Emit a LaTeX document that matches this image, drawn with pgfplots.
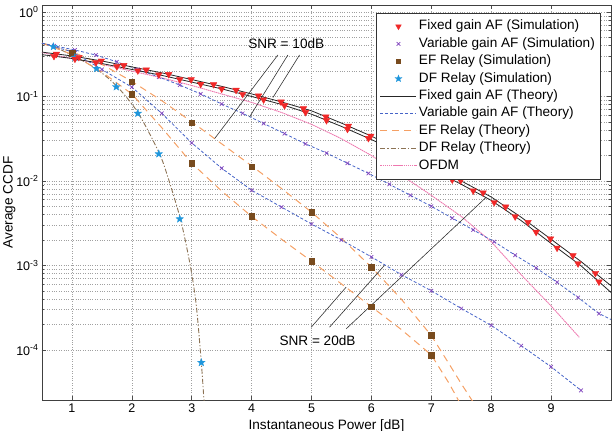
\documentclass[border=0pt]{standalone}
\usepackage{pgfplots}
\pgfplotsset{compat=1.18}
\usepackage{fontspec}
\setmainfont{Liberation Sans}
\usetikzlibrary{plotmarks}
\definecolor{redm}{RGB}{240,40,40}
\definecolor{purplem}{RGB}{130,70,190}
\definecolor{bluel}{RGB}{70,100,200}
\definecolor{orangel}{RGB}{245,160,100}
\definecolor{brownm}{RGB}{120,75,30}
\definecolor{bluem}{RGB}{30,150,220}
\definecolor{dfline}{RGB}{140,115,85}
\definecolor{pinkl}{RGB}{238,120,175}
\definecolor{gridc}{RGB}{160,160,160}
\pgfdeclareplotmark{fstar}{%
  \pgfpathmoveto{\pgfpointpolar{90}{\pgfplotmarksize}}%
  \pgfpathlineto{\pgfpointpolar{126}{0.42\pgfplotmarksize}}%
  \pgfpathlineto{\pgfpointpolar{162}{\pgfplotmarksize}}%
  \pgfpathlineto{\pgfpointpolar{198}{0.42\pgfplotmarksize}}%
  \pgfpathlineto{\pgfpointpolar{234}{\pgfplotmarksize}}%
  \pgfpathlineto{\pgfpointpolar{270}{0.42\pgfplotmarksize}}%
  \pgfpathlineto{\pgfpointpolar{306}{\pgfplotmarksize}}%
  \pgfpathlineto{\pgfpointpolar{342}{0.42\pgfplotmarksize}}%
  \pgfpathlineto{\pgfpointpolar{18}{\pgfplotmarksize}}%
  \pgfpathlineto{\pgfpointpolar{54}{0.42\pgfplotmarksize}}%
  \pgfpathclose\pgfusepathqfillstroke}
\newcommand{\lfont}{\fontsize{13.6}{15}\selectfont}
\begin{document}
\begin{tikzpicture}[x=1pt,y=1pt]
\useasboundingbox (-42,-31) rectangle (572,400);
\begin{axis}[at={(0,0)}, anchor=south west, scale only axis,
  width=569pt, height=395pt,
  ymode=log, xmin=0.5, xmax=10, ymin=2.55e-5, ymax=1.21,
  xtick={1,2,3,4,5,6,7,8,9},
  ytick={1e-4,1e-3,1e-2,1e-1,1},
  yticklabels={10\textsuperscript{-4},10\textsuperscript{-3},10\textsuperscript{-2},10\textsuperscript{-1},10\textsuperscript{0}},
  xticklabel style={font=\fontsize{12.5}{14}\selectfont},
  yticklabel style={font=\fontsize{12.5}{14}\selectfont},
  /pgf/number format/assume math mode=true,
  grid=both, minor x tick num=0,
  major grid style={dotted, gridc, line width=0.6pt},
  minor grid style={dotted, gridc, line width=0.6pt},
  tick align=inside, tick style={black!70, line width=0.5pt},
  major tick length=4pt, minor tick length=2pt,
  axis line style={draw=black!75, line width=0.8pt},
  xlabel={Instantaneous Power [dB]}, ylabel={Average CCDF},
  label style={font=\lfont},
  ylabel shift=-6pt,
  legend cell align=left,
  legend image code/.code={\draw[mark repeat=2,mark phase=2,#1] plot coordinates {(0pt,0pt) (18pt,0pt) (36pt,0pt)};},
  legend style={at={(0.982,0.980)}, anchor=north east, draw=black!80, line width=0.8pt, fill=white,
    font=\lfont, inner xsep=3.5pt, inner ysep=4.5pt, row sep=0pt,
    nodes={inner sep=2pt, text height=10pt, text depth=3.4pt},
    /tikz/every even column/.append style={column sep=2pt}},
]
% legend images
\addlegendimage{only marks, mark=triangle*, mark size=3.2pt, mark options={rotate=180, fill=redm, draw=redm, line width=0.4pt}}
\addlegendentry{Fixed gain AF (Simulation)}
\addlegendimage{only marks, mark=x, mark size=2.6pt, mark options={draw=purplem, line width=0.7pt}}
\addlegendentry{Variable gain AF (Simulation)}
\addlegendimage{only marks, mark=square*, mark size=2.4pt, mark options={fill=brownm, draw=brownm}}
\addlegendentry{EF Relay (Simulation)}
\addlegendimage{only marks, mark=fstar, mark size=3.6pt, mark options={fill=bluem, draw=bluem, line width=0.3pt}}
\addlegendentry{DF Relay (Simulation)}
\addlegendimage{black!85, line width=0.8pt}
\addlegendentry{Fixed gain AF (Theory)}
\addlegendimage{bluel, line width=0.8pt, dash pattern=on 3pt off 2pt}
\addlegendentry{Variable gain AF (Theory)}
\addlegendimage{orangel, line width=1pt, dash pattern=on 7pt off 5pt}
\addlegendentry{EF Relay (Theory)}
\addlegendimage{dfline, line width=0.9pt, dash pattern=on 5pt off 2pt on 1.2pt off 2pt}
\addlegendentry{DF Relay (Theory)}
\addlegendimage{pinkl, line width=0.9pt, dash pattern=on 1.5pt off 0.6pt}
\addlegendentry{OFDM}

% OFDM
\addplot[forget plot, pinkl, line width=0.9pt, dash pattern=on 1.5pt off 0.6pt] coordinates {
(0.5,0.331) (1,0.282) (1.5,0.240) (2,0.200) (2.5,0.166) (3,0.135) (3.5,0.107) (4,0.0851) (4.5,0.0646) (5,0.0468) (5.5,0.0316) (6,0.0200) (6.5,0.0117) (7,0.00676) (7.5,0.00380) (8,0.00191) (8.5,7.76e-4) (9,3.31e-4) (9.47,1.41e-4)};

% DF theory
\addplot[forget plot, dfline, line width=0.9pt, dash pattern=on 5pt off 2pt on 1.2pt off 2pt, smooth] coordinates {
(0.5,0.427) (0.7,0.389) (1.05,0.295) (1.4,0.214) (1.75,0.132) (2.1,0.0646) (2.45,0.0219) (2.6,0.0112) (2.8,0.00380) (2.9,0.00186) (3.0,7.94e-4) (3.08,3.16e-4) (3.16,7.08e-5) (3.2,2.82e-5) (3.22,2.0e-5)};

% EF theory SNR10
\addplot[forget plot, orangel, line width=1pt, dash pattern=on 7pt off 5pt] coordinates {
(0.5,0.427) (1,0.339) (1.5,0.240) (2,0.151) (2.5,0.0891) (3,0.0501) (3.5,0.0275) (4,0.0151) (4.5,0.00813) (5,0.00427) (5.5,0.00209) (6,9.55e-4) (6.5,3.98e-4) (7,1.479e-4) (7.3,6.76e-5) (7.5,3.98e-5) (7.7,2.4e-5)};
% EF theory SNR20
\addplot[forget plot, orangel, line width=1pt, dash pattern=on 7pt off 5pt] coordinates {
(0.5,0.427) (1,0.316) (1.5,0.195) (2,0.107) (2.5,0.0427) (3,0.0162) (3.5,0.00759) (4,0.00380) (4.5,0.00204) (5,0.00112) (5.5,6.03e-4) (6,3.24e-4) (6.5,1.74e-4) (7,8.71e-5) (7.3,3.98e-5) (7.47,2.4e-5)};

% Variable gain theory SNR10
\addplot[forget plot, bluel, line width=0.8pt, dash pattern=on 3pt off 2pt] coordinates {
(0.5,0.427) (0.7,0.398) (1.05,0.355) (1.4,0.309) (1.75,0.257) (2.1,0.209) (2.45,0.170) (2.8,0.1365) (3.15,0.1072) (3.5,0.0813) (3.85,0.0631) (4.2,0.0479) (4.55,0.0363) (4.9,0.0275) (5.25,0.0214) (5.6,0.0162) (5.95,0.0123) (6.3,0.00912) (6.65,0.00676) (7.0,0.00501) (7.35,0.00363) (7.7,0.00263) (8.05,0.00191) (8.4,0.00132) (8.75,9.33e-4) (9.1,6.31e-4) (9.45,4.17e-4) (9.8,2.69e-4) (10,2.29e-4)};
% Variable gain theory SNR20
\addplot[forget plot, bluel, line width=0.8pt, dash pattern=on 3pt off 2pt] coordinates {
(0.5,0.427) (1,0.339) (1.5,0.209) (2,0.129) (2.5,0.0631) (3,0.0282) (3.5,0.01413) (4,0.00776) (4.5,0.00490) (5,0.00309) (5.5,0.00200) (6,0.00126) (6.5,7.76e-4) (7,5.01e-4) (7.5,3.09e-4) (8,1.95e-4) (8.5,1.122e-4) (9,6.31e-5) (9.5,3.31e-5)};

% Fixed gain theory (two SNRs)
\addplot[forget plot, black!85, line width=0.8pt] coordinates {
(0.5,0.335) (1,0.302) (1.5,0.263) (2,0.224) (2.5,0.1905) (3,0.1585) (3.5,0.1318) (4,0.1072) (4.5,0.0861) (5,0.0676) (5.5,0.0484) (6,0.0339) (6.5,0.0229) (7,0.0151) (7.5,0.0100) (8,0.00646) (8.5,0.00372) (9,0.00204) (9.5,0.00111) (10,5.75e-4)};
\addplot[forget plot, black!85, line width=0.8pt] coordinates {
(0.5,0.3126) (1,0.2818) (1.5,0.2455) (2,0.2089) (2.5,0.1778) (3,0.1479) (3.5,0.1230) (4,0.1) (4.5,0.0804) (5,0.0617) (5.5,0.0442) (6,0.0309) (6.5,0.0209) (7,0.0138) (7.5,0.00912) (8,0.00589) (8.5,0.00339) (9,0.00182) (9.5,9.89e-4) (10,4.79e-4)};

% annotations
\draw[black!80, line width=0.6pt] (axis cs:4.438,0.3097) -- (axis cs:3.383,0.0318);
\draw[black!80, line width=0.6pt] (axis cs:4.605,0.3097) -- (axis cs:3.967,0.0574);
\draw[black!80, line width=0.6pt] (axis cs:4.8,0.3097) -- (axis cs:4.355,0.0970);
\node[font=\lfont] at (axis cs:4.578,0.4266) {SNR = 10dB};
\draw[black!80, line width=0.6pt] (axis cs:4.995,1.854e-4) -- (axis cs:5.578,5.53e-4);
\draw[black!80, line width=0.6pt] (axis cs:5.3,1.854e-4) -- (axis cs:6.217,1.0e-3);
\draw[black!80, line width=0.6pt] (axis cs:5.578,1.774e-4) -- (axis cs:7.917,6.41e-3);
\node[font=\lfont] at (axis cs:5.10,1.29e-4) {SNR = 20dB};

% Variable gain sims
\addplot[forget plot, only marks, mark=x, mark size=2.6pt, mark options={draw=purplem, line width=0.7pt}] coordinates {
(0.7,0.398) (1.05,0.355) (1.4,0.309) (1.75,0.257) (2.1,0.209) (2.45,0.170) (2.8,0.1365) (3.15,0.1072) (3.5,0.0813) (3.85,0.0631) (4.2,0.0479) (4.55,0.0363) (4.9,0.0275) (5.25,0.0214) (5.6,0.0162) (5.95,0.0123) (6.3,0.00912) (6.65,0.00676) (7.0,0.00501) (7.35,0.00363) (7.7,0.00263) (8.05,0.00191) (8.4,0.00132) (8.75,9.33e-4) (9.1,6.31e-4) (9.45,4.17e-4) (9.8,2.69e-4)};
\addplot[forget plot, only marks, mark=x, mark size=2.6pt, mark options={draw=purplem, line width=0.7pt}] coordinates {
(1,0.339) (1.5,0.209) (2,0.129) (2.5,0.0631) (3,0.0282) (3.5,0.01413) (4,0.00776) (4.5,0.00490) (5,0.00309) (5.5,0.00200) (6,0.00126) (6.5,7.76e-4) (7,5.01e-4) (7.5,3.09e-4) (8,1.95e-4) (8.5,1.122e-4) (9,6.31e-5) (9.5,3.31e-5)};

% EF sims
\addplot[forget plot, only marks, mark=square*, mark size=2.8pt, mark options={fill=brownm, draw=brownm}] coordinates {
(1,0.33) (2,0.149) (3,0.0490) (4,0.0148) (5,0.00427) (6,9.55e-4) (7,1.48e-4)};
\addplot[forget plot, only marks, mark=square*, mark size=2.8pt, mark options={fill=brownm, draw=brownm}] coordinates {
(1,0.32) (2,0.107) (3,0.0163) (4,0.00380) (5,0.00112) (6,3.24e-4) (7,8.71e-5)};

% DF sims
\addplot[forget plot, only marks, mark=fstar, mark size=4pt, mark options={fill=bluem, draw=bluem, line width=0.3pt}] coordinates {
(0.69,0.389) (1.05,0.29) (1.41,0.214) (1.74,0.130) (2.1,0.0631) (2.45,0.0209) (2.8,0.00355) (3.16,7.08e-5)};

% Fixed gain sims
\addplot[forget plot, only marks, mark=triangle*, mark size=3.8pt, mark options={rotate=180, fill=redm, draw=redm, line width=0.4pt}] coordinates {
(0.74,0.318) (1.115,0.292) (1.49,0.264) (1.865,0.234) (2.24,0.207) (2.615,0.183) (2.99,0.159) (3.365,0.139) (3.74,0.119) (4.115,0.102) (4.49,0.0865) (4.865,0.0721) (5.24,0.0575) (5.615,0.0446) (5.99,0.0341) (6.365,0.0255) (6.74,0.0188) (7.115,0.0138) (7.49,0.0101) (7.865,0.00726) (8.24,0.00495) (8.615,0.00324) (8.99,0.00207) (9.365,0.00131) (9.74,8.09e-4)};
\addplot[forget plot, only marks, mark=triangle*, mark size=3.8pt, mark options={rotate=180, fill=redm, draw=redm, line width=0.4pt}] coordinates {
(0.7,0.300) (1.05,0.278) (1.4,0.252) (1.75,0.226) (2.1,0.202) (2.45,0.181) (2.8,0.159) (3.15,0.140) (3.5,0.123) (3.85,0.1064) (4.2,0.0916) (4.55,0.0782) (4.9,0.0650) (5.25,0.0521) (5.6,0.0411) (5.95,0.0320) (6.3,0.0244) (6.65,0.01845) (7.0,0.0138) (7.35,0.01033) (7.7,0.00766) (8.05,0.00557) (8.4,0.00378) (8.75,0.00248) (9.1,0.00161) (9.45,0.00105) (9.8,6.40e-4)};
\end{axis}
\end{tikzpicture}
\end{document}
